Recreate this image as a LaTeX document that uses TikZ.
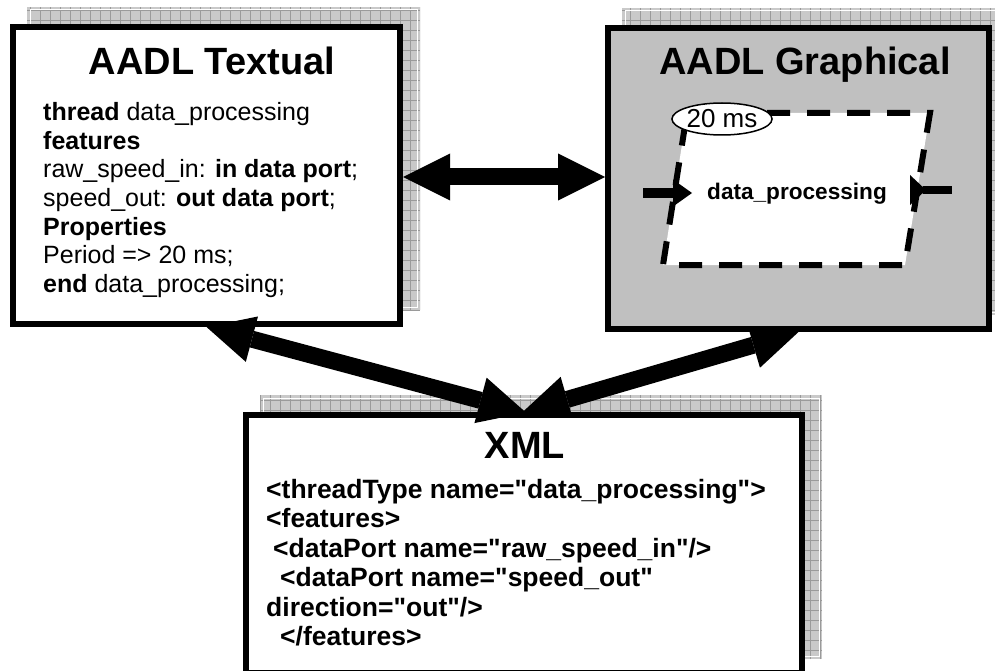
\documentclass[tikz,border=0pt]{standalone}
\usepackage{fontspec}
\setmainfont{Liberation Sans}
\usetikzlibrary{arrows.meta,calc,shapes.geometric}
\pgfdeclarelayer{bg}
\pgfdeclarelayer{mid}
\pgfsetlayers{bg,mid,main}
\definecolor{shadefill}{HTML}{C9C9C9}
\definecolor{shadegrid}{HTML}{9A9A9A}
\definecolor{grafill}{HTML}{C0C0C0}
\newcommand\dq{\XeTeXglyph\XeTeXcharglyph"22\relax}
\newcommand\mkshadow[1]{%
  \begin{scope}
    \fill[shadefill] ($(#1.south west)+(17,-17)$) rectangle ($(#1.north east)+(17,-17)$);
    \clip ($(#1.south west)+(17,-17)$) rectangle ($(#1.north east)+(17,-17)$);
    \draw[shadegrid,line width=0.6pt,step=10pt] ($(#1.south west)+(17,-17)$) grid ($(#1.north east)+(17,-17)$);
    \draw[white,line width=1pt] ($(#1.south west)+(20,-20)$) rectangle ($(#1.north east)+(14,-14)$);
  \end{scope}}
\begin{document}
\begin{tikzpicture}[x=1pt,y=-1pt,
  box/.style={draw,line width=6pt,rectangle,inner sep=0pt,outer sep=3pt},
  title/.style={anchor=base,inner sep=0pt,font=\fontsize{38}{38}\selectfont\bfseries},
  txt/.style={anchor=base west,inner sep=0pt,font=\fontsize{25}{28}\selectfont},
  xtxt/.style={anchor=base west,inner sep=0pt,font=\fontsize{26.5}{29}\selectfont\bfseries},
  tipA/.tip={Triangle[length=47pt,width=47pt,line width=0pt]},
  dbl/.style={line width=17pt,tipA-tipA},
  dashline/.style={line width=6pt,dash pattern=on 23pt off 17pt}]
\begin{pgfonlayer}{bg}
  \fill[white] (0,0) rectangle (995,671);
\end{pgfonlayer}
\useasboundingbox (0,0) rectangle (995,671);

% boxes
\node[box,fill=white,minimum width=387pt,minimum height=297pt] (tex) at (206.5,175.5) {};
\node[box,fill=white,minimum width=556pt,minimum height=258pt] (xml) at (524,544) {};
\node[box,fill=grafill,minimum width=381pt,minimum height=301pt] (gra) at (798.5,178.5) {};

\begin{pgfonlayer}{bg}
  \mkshadow{tex}
  \mkshadow{gra}
  \mkshadow{xml}
\end{pgfonlayer}

% titles
\node[title] (textitle) at (212,75) {AADL Textual};
\node[title] (gratitle) at (805,75) {AADL Graphical};
\node[title] (xmltitle) at (525,458) {XML};

% textual content
\node[txt] (t1) at (43,121) {\textbf{thread} data\_processing};
\node[txt] (t2) at (43,149.5) {\textbf{features}};
\node[txt] (t3) at (43,178) {raw\_speed\_in: \textbf{in data port};};
\node[txt] (t4) at (43,206.5) {speed\_out: \textbf{out data port};};
\node[txt] (t5) at (43,235) {\textbf{Properties}};
\node[txt] (t6) at (43,263.5) {Period => 20 ms;};
\node[txt] (t7) at (43,292) {\textbf{end} data\_processing;};

% xml content
\node[xtxt] (x1) at (266,498) {<threadType name=\dq data\_processing\dq>};
\node[xtxt] (x2) at (266,527.5) {<features>};
\node[xtxt] (x3) at (273,557) {<dataPort name=\dq raw\_speed\_in\dq/>};
\node[xtxt] (x4) at (280,586.5) {<dataPort name=\dq speed\_out\dq};
\node[xtxt] (x5) at (266,616) {direction=\dq out\dq/>};
\node[xtxt] (x6) at (280,645.5) {</features>};

% graphical content
\coordinate (pa) at (687,113);
\coordinate (pb) at (930,113);
\coordinate (pc) at (905,265);
\coordinate (pd) at (663,265);
\fill[white] (pa) -- (pb) -- (pc) -- (pd) -- cycle;
\draw[dashline] (pa) -- (pb) -- (pc) -- (pd) -- cycle;
\node[inner sep=0pt,font=\fontsize{22.6}{24}\selectfont\bfseries,anchor=base] (dp) at (797,200) {data\_processing};
% in port
\coordinate (inA) at (643,193);
\coordinate (inB) at (675,193);
\draw[line width=9pt] (inA) -- (inB);
\fill (673,179.5) -- (692,193) -- (673,206.5) -- cycle;
% out port
\coordinate (outA) at (923,190);
\coordinate (outB) at (952,190);
\fill (910,175) -- (926,190) -- (910,205) -- cycle;
\draw[line width=8pt] (outA) -- (outB);
\node[ellipse,draw,fill=white,line width=1.5pt,inner sep=0pt,minimum width=91pt,minimum height=32pt,font=\fontsize{26}{26}\selectfont] (per) at (722,119) {20 ms};

% arrows
\coordinate (hm) at (0,177);
\draw[dbl] (tex.east |- hm) -- (gra.west |- hm);
\draw[dbl,shorten >=-2pt] (tex.south) -- (xml.north);
\begin{pgfonlayer}{mid}
  \draw[dbl,shorten <=-2pt] (xml.north) -- (gra.south);
\end{pgfonlayer}
\end{tikzpicture}
\end{document}
